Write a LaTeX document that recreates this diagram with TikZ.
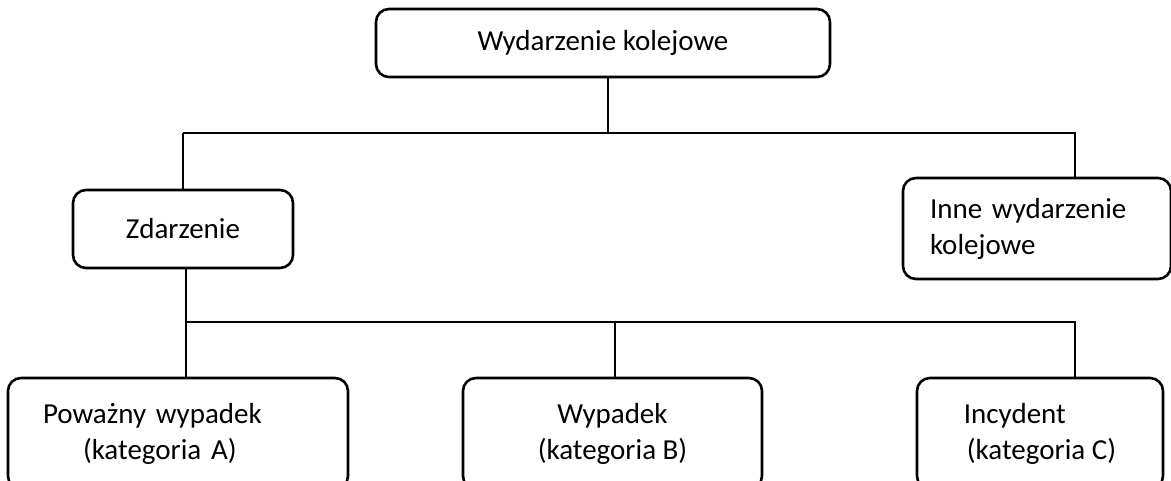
\documentclass[tikz,border=0pt]{standalone}
\usepackage{fontspec}
\setmainfont{Carlito}
\usepackage{tikz}
\usetikzlibrary{calc, positioning}

\begin{document}
\begin{tikzpicture}[
		x=1pt, y=-1pt,
		box/.style={rectangle, draw, rounded corners=13pt, line width=2.6pt, font=\fontsize{29}{36}\selectfont, inner sep=0pt},
		every path/.style={line width=2.6pt},
		]
		\useasboundingbox (0,0) rectangle (1171,481);
		
		% Les cadres
		\node[box, minimum width=454pt, minimum height=68pt] (W) at (603, 43) {Wydarzenie kolejowe};
		\node[box, minimum width=220pt, minimum height=78pt] (Z) at (183, 229) {Zdarzenie};
		\node[box, minimum width=268pt, minimum height=101pt, text width=214pt, align=left] (I) at (1037, 228.5) {Inne wydarzenie\\kolejowe};
		\node[box, minimum width=340pt, minimum height=111pt, text width=270pt, align=left] (A) at (178, 433.5) {Poważny wypadek\\\hspace*{40pt}(kategoria A)};
		\node[box, minimum width=299pt, minimum height=111pt, align=center] (B) at (612.5, 433.5) {Wypadek\\(kategoria B)};
		\node[box, minimum width=246pt, minimum height=111pt, align=left] (C) at (1040, 433.5) {Incydent\\\hspace*{3pt}(kategoria C)};
		
		% Les points de jonction
		\coordinate (h1) at (608, 133);
		\coordinate (h2) at (186, 322);
		
		% Les liaisons
		\draw (W.south -| h1) -- (h1);
		\draw (Z.north |- h1) -- (h1 -| 1075,0) -- ($(I.north -| 1075,0)$);
		\draw (Z.north) -- (Z.north |- h1);
		\draw (Z.south -| h2) -- (h2) -- (h2 -| 1075,0) -- (C.north -| 1075,0);
		\draw (h2) -- (A.north -| h2);
		\draw (B.north -| 615,0) -- (h2 -| 615,0);
	\end{tikzpicture}
\end{document}
